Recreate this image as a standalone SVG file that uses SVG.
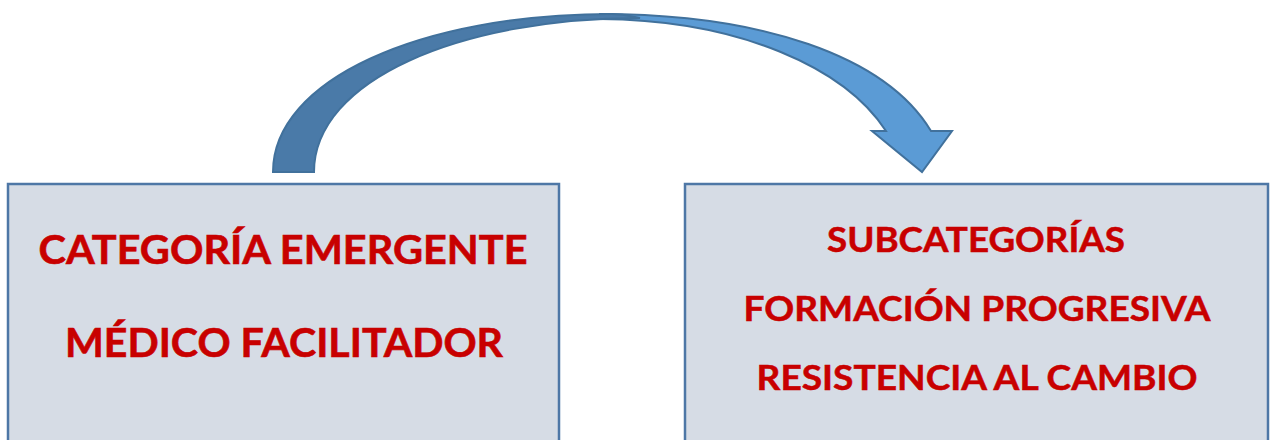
<svg xmlns="http://www.w3.org/2000/svg" width="1274" height="440" viewBox="0 0 1274 440">
<style>
.box{fill:#D6DCE5;stroke:#4E77A6;stroke-width:2.5}
.t1{font-family:Lato,"Noto Sans","Liberation Sans",sans-serif;font-weight:bold;font-size:41px;fill:#C80000;stroke:#C80000;stroke-width:0.6}
.t2{font-family:Lato,"Noto Sans","Liberation Sans",sans-serif;font-weight:bold;font-size:35px;fill:#C80000;stroke:#C80000;stroke-width:0.5}
.dark{fill:#4A7AA8;stroke:#41719C;stroke-width:2}
.light{fill:#5B9BD5;stroke:#41719C;stroke-width:2}
</style>
<rect width="1274" height="440" fill="#FFFFFF"/>
<g id="connectors">
<path class="light" d="M600,14 C760,14 885,55 931,131 L952,131 L922,172 L872,131 L886,131 C845,68 740,20 600,19 Z"/>
<path class="dark" d="M273,172 C273,80 420,14 612,14 C625,14 630,16 640,18 C460,18 314,80 314,172 Z"/>
</g>
<g id="node-categoria">
<rect class="box" x="8" y="184" width="551" height="270"/>
<text class="t1" x="283" y="264" text-anchor="middle" textLength="489" lengthAdjust="spacingAndGlyphs">CATEGORÍA EMERGENTE</text>
<text class="t1" x="284" y="357" text-anchor="middle" textLength="438" lengthAdjust="spacingAndGlyphs">MÉDICO FACILITADOR</text>
</g>
<g id="node-subcategorias">
<rect class="box" x="685" y="184" width="583" height="270"/>
<text class="t2" x="976" y="252" text-anchor="middle" textLength="298" lengthAdjust="spacingAndGlyphs">SUBCATEGORÍAS</text>
<text class="t2" x="977" y="321" text-anchor="middle" textLength="467" lengthAdjust="spacingAndGlyphs">FORMACIÓN PROGRESIVA</text>
<text class="t2" x="977" y="390" text-anchor="middle" textLength="441" lengthAdjust="spacingAndGlyphs">RESISTENCIA AL CAMBIO</text>
</g>
</svg>
